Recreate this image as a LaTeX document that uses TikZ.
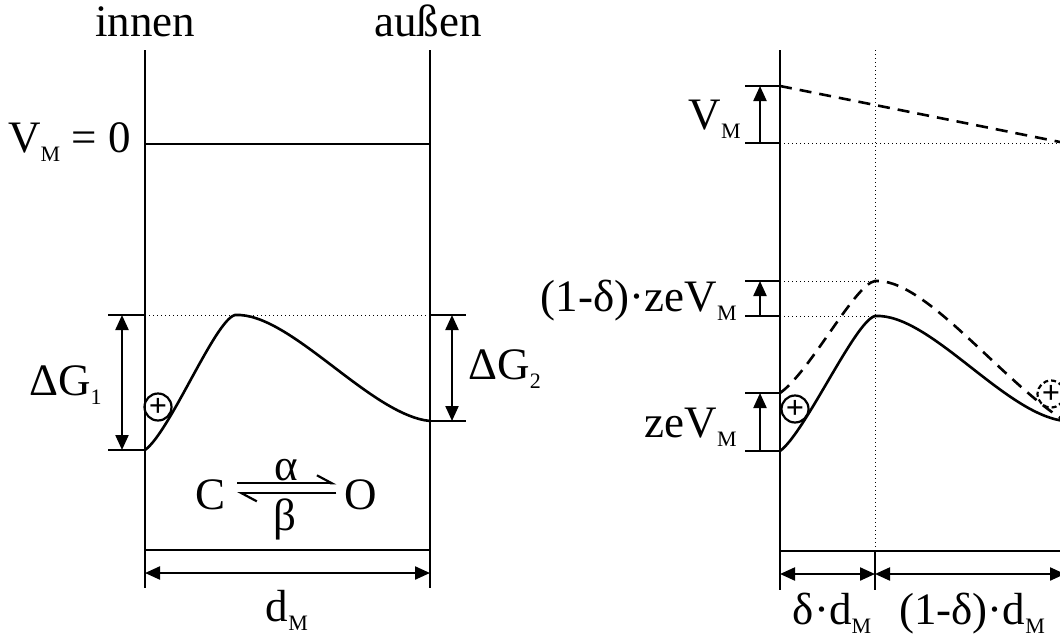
\documentclass[tikz,border=0pt]{standalone}
\usepackage{fontspec}
\setmainfont{Liberation Serif}
\usetikzlibrary{arrows.meta,positioning,calc}
\newcommand{\low}[1]{\raisebox{-4.5pt}{\fontsize{11}{12}\selectfont #1}}

\begin{document}
\begin{tikzpicture}[x=0.5pt, y=-0.5pt,
    wall/.style={line width=1.3pt},
    level/.style={line width=1.3pt},
    guide/.style={line width=0.5pt, dash pattern=on 0.5pt off 1.5pt},
    shifted/.style={line width=1.3pt, dash pattern=on 6pt off 4pt},
    dim/.style={line width=1.1pt, {Triangle[length=7.5pt,width=6.5pt]}-{Triangle[length=7.5pt,width=6.5pt]}},
    rise/.style={line width=1.1pt, -{Triangle[length=7.5pt,width=6.5pt]}},
    harp/.style={line width=1.1pt, -{Straight Barb[harpoon,length=7.5pt,width=8pt]}},
    lbl/.style={font=\fontsize{22.5}{27}\selectfont, inner sep=0pt, anchor=base},
    ion/.style={circle, draw, line width=1.1pt, minimum size=13.5pt, inner sep=0pt, font=\fontsize{16}{16}\selectfont\bfseries}
  ]
  \useasboundingbox (0,0) rectangle (1060,637);
  \clip (0,0) rectangle (1060,637);

  % Left: channel at V_M = 0
  \node[lbl] (innen) at (145,36) {innen};
  \node[lbl] (aussen) at (428,36) {außen};
  \coordinate (inTop) at (145,50);  \coordinate (inBot) at (145,588);
  \coordinate (outTop) at (430,50); \coordinate (outBot) at (430,588);
  \draw[wall] (inTop) -- (inBot);
  \draw[wall] (outTop) -- (outBot);
  \node[lbl, anchor=base east] (zero) at (131,152) {V\low{M} = 0};
  \draw[level] (145,144) -- (430,144);

  % Barrier
  \coordinate (lBase) at (145,450);
  \coordinate (lPeak) at (235,315);
  \coordinate (lEnd) at (430,421);
  \draw[guide] (lPeak -| inTop) -- (lPeak -| outTop);
  \draw[level] (lBase) .. controls (170,432) and (215,320) .. (lPeak)
    .. controls (290,312) and (370,415) .. (lEnd);
  \node[ion] (lIon) at (158,407) {+};

  % Delta G1
  \coordinate (g1a) at (122,315); \coordinate (g1b) at (122,450);
  \draw[level] (108,315) -- (145,315);
  \draw[level] (108,450) -- (lBase);
  \draw[dim] (g1a) -- (g1b);
  \node[lbl, anchor=base east] (dG1) at (102,395) {ΔG\low{1}};

  % Delta G2
  \coordinate (g2a) at (452,315); \coordinate (g2b) at (452,421);
  \draw[level] (430,315) -- (466,315);
  \draw[level] (lEnd) -- (466,421);
  \draw[dim] (g2a) -- (g2b);
  \node[lbl, anchor=base west] (dG2) at (468,379) {ΔG\low{2}};

  % C <-> O
  \node[lbl] (closed) at (211,509) {C};
  \node[lbl] (open) at (361,509) {O};
  \draw[harp] ([xshift=5.5pt,yshift=5.5pt]closed.east) -- ([xshift=-4pt,yshift=5.5pt]open.west);
  \draw[harp] ([xshift=-4pt,yshift=0.5pt]open.west) -- ([xshift=5.5pt,yshift=0.5pt]closed.east);
  \node[lbl] (alpha) at (286,480) {α};
  \node[lbl] (beta) at (285,530) {β};

  % d_M
  \coordinate (inDim) at (145,573); \coordinate (outDim) at (430,573);
  \draw[level] (145,550) -- (430,550);
  \draw[dim] (inDim) -- (outDim);
  \node[lbl] (dM) at (287,621) {d\low{M}};

  % Right: channel with membrane voltage
  \coordinate (in2Top) at (780,50);  \coordinate (in2Bot) at (780,590);
  \coordinate (out2Top) at (1065,50); \coordinate (out2Bot) at (1065,590);
  \draw[wall] (in2Top) -- (in2Bot);
  \draw[wall] (out2Top) -- (out2Bot);
  \draw[guide] (875,50) -- (875,551);

  % Potential V_M
  \coordinate (vIn) at (780,86); \coordinate (vOut) at (1065,143);
  \coordinate (vA) at (760,143); \coordinate (vB) at (760,86);
  \draw[shifted] (vIn) -- (vOut);
  \draw[guide] (780,143) -- (vOut);
  \draw[level] (745,86) -- (vIn);
  \draw[level] (745,143) -- (780,143);
  \draw[rise] (vA) -- (vB);
  \node[lbl, anchor=base east] (vM) at (741,129) {V\low{M}};

  % Barriers with and without voltage
  \coordinate (rBase) at (780,451); \coordinate (rPeak) at (875,316); \coordinate (rEnd) at (1065,421);
  \coordinate (sBase) at (780,393); \coordinate (sPeak) at (875,281);
  \draw[guide] (780,281) -- (sPeak);
  \draw[guide] (780,316) -- (rPeak);
  \draw[level] (rBase) .. controls (805,433) and (855,321) .. (rPeak)
    .. controls (930,313) and (1005,415) .. (rEnd);
  \draw[shifted] (sBase) .. controls (810,372) and (855,284) .. (sPeak)
    .. controls (925,278) and (1000,380) .. (rEnd);
  \node[ion] (rIon) at (795,409) {+};
  \node[ion, dash pattern=on 2.5pt off 1.5pt] (sIon) at (1051,394) {+};

  % (1-delta) zeV_M
  \coordinate (pA) at (760,316); \coordinate (pB) at (760,281);
  \draw[level] (745,281) -- (780,281);
  \draw[level] (745,316) -- (780,316);
  \draw[rise] (pA) -- (pB);
  \node[lbl, anchor=base east] (peakShift) at (737,311) {(1-δ)·zeV\low{M}};

  % zeV_M
  \coordinate (zA) at (760,451); \coordinate (zB) at (760,393);
  \draw[level] (745,393) -- (sBase);
  \draw[level] (745,451) -- (rBase);
  \draw[rise] (zA) -- (zB);
  \node[lbl, anchor=base east] (zeV) at (737,437) {zeV\low{M}};

  % delta d_M and (1-delta) d_M
  \coordinate (in2Dim) at (780,574); \coordinate (midDim) at (875,574); \coordinate (out2Dim) at (1065,574);
  \draw[level] (780,551) -- (1065,551);
  \draw[level] (875,551) -- (875,590);
  \draw[dim] (in2Dim) -- (midDim);
  \draw[dim] (midDim) -- (out2Dim);
  \node[lbl] (dIn) at (832,624) {δ·d\low{M}};
  \node[lbl] (dOut) at (972,624) {(1-δ)·d\low{M}};
\end{tikzpicture}
\end{document}
